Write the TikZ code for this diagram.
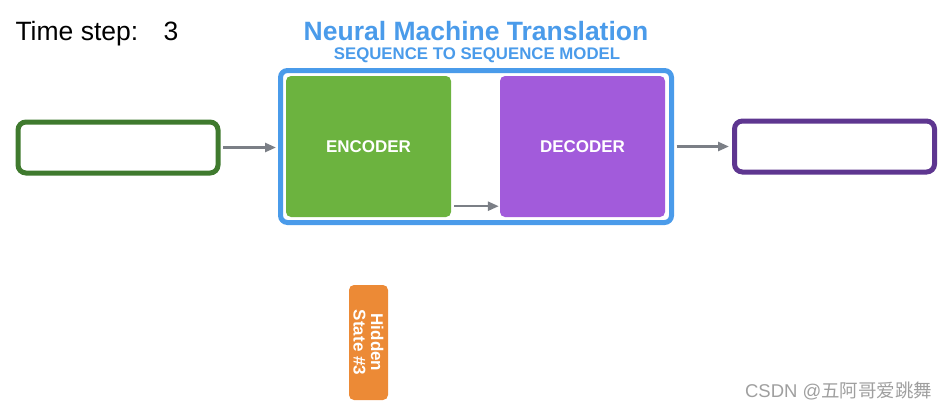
\documentclass[tikz,border=0pt]{standalone}
\usepackage{fontspec}
\setmainfont{Liberation Sans}
\newfontfamily\cjkfont{Noto Sans CJK SC}
\usetikzlibrary{arrows.meta}
\usetikzlibrary{positioning}
\definecolor{titleblue}{HTML}{4A9BEA}
\definecolor{encgreen}{HTML}{6CB33F}
\definecolor{decpurple}{HTML}{A25BDB}
\definecolor{ingreen}{HTML}{3F7A2E}
\definecolor{outpurple}{HTML}{5E3690}
\definecolor{statorange}{HTML}{EC8A36}
\definecolor{arrowgray}{HTML}{7B7F86}

\begin{document}
\begin{tikzpicture}[
  x=1pt,y=-1pt,
  block/.style={rounded corners=5pt,draw=none,text=white,
    font=\fontsize{17}{19}\selectfont\bfseries,minimum width=165pt,minimum height=141pt},
  seqbox/.style={rounded corners=8pt,line width=5pt,fill=white,
    minimum width=200pt,minimum height=51pt},
  flow/.style={-{Triangle[length=11pt,width=9pt]},line width=2.5pt,draw=arrowgray}
]
\useasboundingbox (0,0) rectangle (950,415);
% header
\node[anchor=base west,font=\fontsize{26.5}{30}\selectfont] (step) at (12,40) {Time step:};
\node[anchor=base west,font=\fontsize{26.5}{30}\selectfont] (stepnum) at (160,40) {3};
\node[text=titleblue,font=\fontsize{26.5}{30}\selectfont\bfseries] (title) at (476,31) {Neural Machine Translation};
\node[text=titleblue,font=\fontsize{16.8}{19}\selectfont\bfseries] (subtitle) at (477,55) {SEQUENCE TO SEQUENCE MODEL};
% seq2seq model
\node[draw=titleblue,line width=5pt,rounded corners=7pt,minimum width=391pt,minimum height=152pt] (model) at (476,146.5) {};
\node[block,fill=encgreen] (enc) at (368.5,146.5) {ENCODER};
\node[block,fill=decpurple] (dec) at (582.5,146.5) {DECODER};
% input and output
\node[seqbox,draw=ingreen] (input) at (118,147.5) {};
\node[seqbox,draw=outpurple] (output) at (834.5,146.5) {};
% connectors
\draw[flow] (input.east) ++(2.5,0) coordinate (inA) -- ([xshift=-2pt]model.west |- inA);
\draw[flow] ([xshift=3pt,yshift=11pt]enc.south east) -- ([xshift=-1pt,yshift=11pt]dec.south west);
\draw[flow] (model.east |- output.west) ++(2.5,0) coordinate (outA) -- ([xshift=-3pt]output.west |- outA);
% hidden state
\node[rounded corners=5pt,fill=statorange,text=white,rotate=-90,align=center,
  minimum width=115pt,minimum height=39pt,inner sep=1pt,
  font=\fontsize{17}{17.5}\selectfont\bfseries] (hidden) at (368.5,342.5) {Hidden\\State \#3};
% watermark
\node[anchor=base east,text=gray!75,font=\fontsize{18.5}{20}\selectfont] (mark) at (936,397) {CSDN @{\cjkfont 五阿哥爱跳舞}};
\end{tikzpicture}
\end{document}
